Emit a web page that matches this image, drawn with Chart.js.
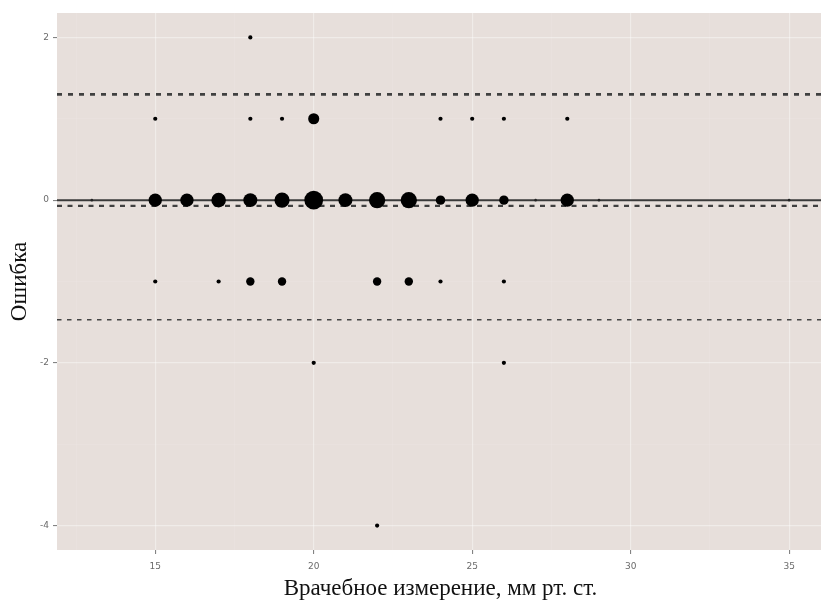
<!DOCTYPE html>
<html>
<head>
<meta charset="utf-8">
<script src="https://cdn.jsdelivr.net/npm/chart.js@4"></script>
<style>
  html, body { margin: 0; padding: 0; background: #fff; overflow: hidden; }
  #wrap { width: 824px; height: 600px; }
</style>
</head>
<body>
<div id="wrap"><canvas id="blandAltman" width="824" height="600"></canvas></div>
<script>
// Ошибка измерения против врачебного измерения (график Бланда–Альтмана)

// точки: врачебное измерение, ошибка, число совпадающих наблюдений
const measX  = [18,  15, 18, 19, 20, 24, 25, 26, 28,
                15, 16, 17, 18, 19, 20, 21, 22, 23, 24, 25, 26, 28,
                15, 17, 18, 19, 22, 23, 24, 26,
                20, 26,
                22];
const errY   = [2,   1, 1, 1, 1, 1, 1, 1, 1,
                0, 0, 0, 0, 0, 0, 0, 0, 0, 0, 0, 0, 0,
                -1, -1, -1, -1, -1, -1, -1, -1,
                -2, -2,
                -4];
const counts = [1,   1, 1, 1, 7, 1, 1, 1, 1,
                10, 10, 12, 11, 13, 20, 11, 15, 15, 5, 10, 5, 10,
                1, 1, 4, 4, 4, 4, 1, 1,
                1, 1,
                1];

// мелкие точки на нулевой линии
const tinyX = [13, 27, 29, 35];
const tinyY = [0, 0, 0, 0];

// средняя разность и границы согласия
const meanDiff = -0.07;
const upperLoA = 1.30;
const lowerLoA = -1.47;

const xMin = 11.9, xMax = 36.1;
const yMin = -4.3, yMax = 2.3;

const xTickLabels = [15, 20, 25, 30, 35];
const yTickLabels = [-4, -2, 0, 2];

function hline(y) {
    return [{ x: xMin, y: y }, { x: xMax, y: y }];
}

const points = measX.map((x, i) => ({ x: x, y: errY[i], n: counts[i] }));
const tiny = tinyX.map((x, i) => ({ x: x, y: tinyY[i] }));

const panelBg = {
    id: 'panelBg',
    beforeDraw(chart) {
        const { ctx, chartArea: a } = chart;
        ctx.save();
        ctx.fillStyle = '#fff';
        ctx.fillRect(0, 0, chart.width, chart.height);
        ctx.fillStyle = '#e7dfdb';
        ctx.fillRect(a.left, a.top, a.right - a.left, a.bottom - a.top);
        ctx.restore();
    }
};

const isMajor = (v, list) => list.some(t => Math.abs(t - v) < 1e-6);

const ctx = document.getElementById('blandAltman').getContext('2d');
window.baChart = new Chart(ctx, {
    type: 'scatter',
    data: {
        datasets: [
            {
                label: 'наблюдения',
                data: points,
                backgroundColor: '#000',
                borderWidth: 0,
                pointRadius: c => 2.1 * Math.sqrt(c.raw.n),
                pointHoverRadius: c => 2.1 * Math.sqrt(c.raw.n)
            },
            {
                label: 'мелкие',
                data: tiny,
                backgroundColor: '#222',
                borderWidth: 0,
                pointRadius: 1.3
            },
            {
                type: 'line',
                label: 'ноль',
                data: hline(0),
                borderColor: '#3a3a3a',
                borderWidth: 2,
                pointRadius: 0
            },
            {
                type: 'line',
                label: 'средняя',
                data: hline(meanDiff),
                borderColor: '#404040',
                borderWidth: 2.4,
                borderDash: [5, 5.5],
                pointRadius: 0
            },
            {
                type: 'line',
                label: 'верхняя граница',
                data: hline(upperLoA),
                borderColor: '#404040',
                borderWidth: 2.6,
                borderDash: [5, 6],
                pointRadius: 0
            },
            {
                type: 'line',
                label: 'нижняя граница',
                data: hline(lowerLoA),
                borderColor: '#454545',
                borderWidth: 1.6,
                borderDash: [4.5, 5.5],
                pointRadius: 0
            }
        ]
    },
    options: {
        responsive: false,
        animation: false,
        devicePixelRatio: 1,
        layout: { autoPadding: false, padding: { top: 13, right: 0, left: 0, bottom: 0 } },
        plugins: {
            legend: { display: false },
            tooltip: { enabled: false }
        },
        scales: {
            x: {
                type: 'linear',
                min: xMin,
                max: xMax,
                afterFit: s => { s.height = 50; s.paddingLeft = 0; s.paddingRight = 0; },
                border: { display: false },
                grid: {
                    color: c => isMajor(c.tick.value, xTickLabels) ? 'rgba(255,255,255,0.4)' : 'rgba(255,255,255,0.15)',
                    lineWidth: c => isMajor(c.tick.value, xTickLabels) ? 1.2 : 0.6,
                    tickLength: 4,
                    tickColor: c => isMajor(c.tick.value, xTickLabels) ? '#777' : 'rgba(0,0,0,0)',
                    tickWidth: 1
                },
                ticks: {
                    stepSize: 2.5,
                    includeBounds: false,
                    autoSkip: false,
                    maxRotation: 0,
                    padding: 7,
                    color: '#6a6a6a',
                    font: { family: 'DejaVu Sans', size: 9 },
                    callback: v => isMajor(v, xTickLabels) ? String(v) : ''
                },
                title: {
                    display: true,
                    text: 'Врачебное измерение, мм рт. ст.',
                    color: '#111',
                    font: { family: 'Liberation Serif', size: 23, lineHeight: 1.0 },
                    padding: { top: 0, bottom: 0 }
                }
            },
            y: {
                type: 'linear',
                min: yMin,
                max: yMax,
                afterFit: s => { s.width = 57; s.paddingTop = 0; s.paddingBottom = 0; },
                border: { display: false },
                grid: {
                    color: c => isMajor(c.tick.value, yTickLabels) ? 'rgba(255,255,255,0.4)' : 'rgba(255,255,255,0.15)',
                    lineWidth: c => isMajor(c.tick.value, yTickLabels) ? 1.2 : 0.6,
                    tickLength: 4,
                    tickColor: c => isMajor(c.tick.value, yTickLabels) ? '#777' : 'rgba(0,0,0,0)',
                    tickWidth: 1
                },
                ticks: {
                    stepSize: 1,
                    includeBounds: false,
                    autoSkip: false,
                    padding: 4,
                    color: '#6a6a6a',
                    font: { family: 'DejaVu Sans', size: 9 },
                    callback: v => isMajor(v, yTickLabels) ? String(v) : ''
                },
                title: {
                    display: true,
                    text: 'Ошибка',
                    color: '#111',
                    font: { family: 'Liberation Serif', size: 23, lineHeight: 1.0 },
                    padding: { top: 8, bottom: 0 }
                }
            }
        }
    },
    plugins: [panelBg]
});
</script>
</body>
</html>
